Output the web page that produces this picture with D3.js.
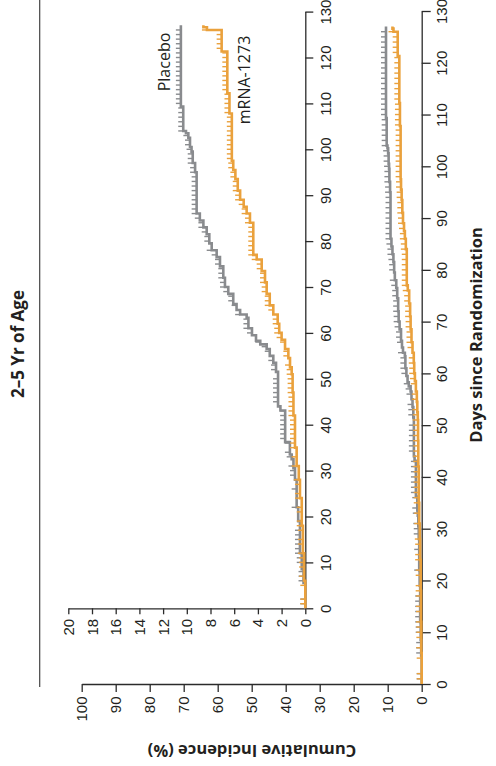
<!DOCTYPE html>
<html>
<head>
<meta charset="utf-8">
<script src="https://cdn.jsdelivr.net/npm/d3@7"></script>
<style>
  html, body { margin: 0; padding: 0; background: #fff; }
  svg { display: block; font-family: "Open Sans", "Noto Sans", sans-serif; }
</style>
</head>
<body>
<div id="chart"></div>
<script>
// cumulative incidence steps (day the step happens, % after it)
const placeboDays = [0, 5.5, 8.5, 12, 19, 22, 28, 30.5, 32.5, 33.5, 36.2, 43.1, 44, 51.5, 53.5, 55, 56.5, 57.5, 58.3, 59.5, 61, 63.3, 64, 65, 66.3, 68.5, 70, 72, 74.5, 76.5, 78, 79.5, 81.5, 83, 84.5, 86, 95, 97, 99.5, 100.5, 102.5, 103.5, 104, 109.3];
const placeboPct  = [0, 0.15, 0.3, 0.45, 0.6, 0.73, 0.87, 1.0, 1.15, 1.3, 1.7, 2.1, 2.3, 2.47, 2.7, 3.0, 3.26, 3.8, 4.16, 4.5, 4.8, 4.95, 5.5, 5.8, 6.08, 6.5, 6.78, 6.92, 7.2, 7.48, 7.9, 8.1, 8.32, 8.6, 8.9, 9.17, 9.3, 9.5, 9.6, 9.73, 9.87, 10.07, 10.3, 10.5];

const mrnaDays = [0, 6, 12, 18, 24, 28, 31, 35, 42, 47, 51, 52.5, 54.5, 56.5, 58.5, 60, 62, 64, 66, 68.5, 71, 73.5, 76, 77, 84, 86, 87.5, 89, 91, 93.5, 95.5, 97.5, 107.8, 112.2, 121.3, 126, 126.6];
const mrnaPct  = [0, 0.1, 0.2, 0.3, 0.45, 0.55, 0.73, 0.87, 1.0, 1.07, 1.15, 1.29, 1.43, 1.71, 2.0, 2.2, 2.33, 2.7, 3.0, 3.26, 3.4, 3.68, 4.1, 4.39, 4.67, 4.95, 5.2, 5.5, 5.7, 5.9, 6.08, 6.2, 6.4, 6.58, 7.06, 8.3, 8.6];

const lastDay = 127;

// censoring marks (days)
const placeboCensor = [1, 2, 6, 7, 8, 10, 11, 12, 13, 14, 15, 16, 17, 22, 26, 29, 30, 31, 33, 34,
  36, 37, 38, 39, 40, 41, 42, 43, 45, 46, 47, 48, 49, 50, 52, 53, 54, 56, 57, 58, 60, 61, 62, 63, 64,
  66, 67, 68, 69, 70, 71, 72, 73, 74, 75, 76, 77, 78, 80, 81, 82, 83, 84, 85, 86, 87, 88, 89, 90, 91,
  92, 93, 94, 95, 96, 97, 98, 99, 100, 101, 102, 103, 104, 105, 106, 107, 108, 109, 110, 111, 112,
  113, 114, 115, 116, 117, 118, 119, 120, 121, 122, 123, 124, 125, 126];
const mrnaCensor = [1, 2, 5, 7, 9, 10, 11, 12, 14, 15, 17, 18, 19, 21, 22, 24, 25, 27, 28, 31, 33, 35,
  36, 37, 38, 39, 40, 41, 42, 43, 44, 45, 46, 47, 48, 49, 50, 51, 52, 53, 55, 56, 58, 59, 60, 61, 62,
  63, 65, 66, 67, 68, 69, 70, 71, 72, 73, 74, 75, 76, 77, 78, 79, 80, 81, 82, 83, 84, 85, 86, 87, 88,
  89, 90, 91, 92, 93, 94, 95, 96, 97, 98, 99, 100, 101, 102, 103, 104, 105, 106, 107, 108, 109, 110,
  111, 112, 113, 114, 115, 116, 117, 118, 119, 120, 121, 122, 123, 124, 125, 126];

// tick labels
const dayTicks = [0, 10, 20, 30, 40, 50, 60, 70, 80, 90, 100, 110, 120, 130];
const mainPctTicks = [0, 10, 20, 30, 40, 50, 60, 70, 80, 90, 100];
const insetPctTicks = [0, 2, 4, 6, 8, 10, 12, 14, 16, 18, 20];

const groups = [
  {name: "Placebo", days: placeboDays, pct: placeboPct, censor: placeboCensor, color: "#898b8e"},
  {name: "mRNA-1273", days: mrnaDays, pct: mrnaPct, censor: mrnaCensor, color: "#eaa13c"}
];

const width = 496, height = 766;
const axisColor = "#2b2b2b";

const svg = d3.select("#chart")
    .append("svg")
    .attr("width", width)
    .attr("height", height);

svg.append("rect").attr("width", width).attr("height", height).attr("fill", "#fff");

// the figure is printed turned a quarter turn: days run upwards, incidence runs leftwards
const mainDay = d3.scaleLinear().domain([0, 130]).range([684, 11]);
const mainPct = d3.scaleLinear().domain([0, 100]).range([421.7, 81.7]);
const insetDay = d3.scaleLinear().domain([0, 130]).range([608.3, 11.6]);
const insetPct = d3.scaleLinear().domain([0, 20]).range([305.3, 68.3]);

function valueAt(g, day) {
    let v = 0;
    for (let i = 0; i < g.days.length; i++) {
        if (g.days[i] <= day) v = g.pct[i];
    }
    return v;
}

function drawPanel(dayScale, pctScale, pctTicks, pctTickLen, dayTickLen) {
    // day axis (vertical, ticks to the right)
    const dayAxis = svg.append("g")
        .attr("transform", "translate(" + pctScale(0) + ",0)")
        .call(d3.axisRight(dayScale).tickValues(dayTicks).tickSize(dayTickLen).tickSizeOuter(0));
    dayAxis.selectAll("text")
        .attr("x", 0).attr("dy", 0)
        .attr("text-anchor", "middle")
        .attr("transform", "translate(25.5,0) rotate(-90)");

    // incidence axis (horizontal, ticks down)
    const pctAxis = svg.append("g")
        .attr("transform", "translate(0," + dayScale(0) + ")")
        .call(d3.axisBottom(pctScale).tickValues(pctTicks).tickSize(pctTickLen).tickSizeOuter(0));
    pctAxis.selectAll("text")
        .attr("y", 0).attr("dy", 0)
        .attr("text-anchor", "end")
        .attr("transform", "translate(5," + (pctTickLen + 4.5) + ") rotate(-90)");

    [dayAxis, pctAxis].forEach(a => {
        a.selectAll("path, line").attr("stroke", axisColor).attr("stroke-width", 1.3);
        a.selectAll("text").attr("fill", "#231f20").style("font-size", "15px");
    });

    const line = d3.line()
        .x(d => pctScale(d[1]))
        .y(d => dayScale(d[0]))
        .curve(d3.curveStepBefore);

    groups.forEach(g => {
        const pts = g.days.map((d, i) => [d, g.pct[i]]);
        pts.push([lastDay, g.pct[g.pct.length - 1]]);

        // censor marks stick out towards higher incidence
        svg.append("g").selectAll("line")
            .data(g.censor)
            .enter()
            .append("line")
            .attr("x1", d => pctScale(valueAt(g, d)))
            .attr("x2", d => pctScale(valueAt(g, d)) - 5)
            .attr("y1", d => dayScale(d))
            .attr("y2", d => dayScale(d))
            .attr("stroke", g.color)
            .attr("stroke-width", 1.4);

        svg.append("path")
            .datum(pts)
            .attr("d", line)
            .attr("fill", "none")
            .attr("stroke", g.color)
            .attr("stroke-width", 2.6);
    });
}

drawPanel(mainDay, mainPct, mainPctTicks, 8, 9);
drawPanel(insetDay, insetPct, insetPctTicks, 6, 8);

// curve labels in the inset
svg.append("text")
    .attr("transform", "translate(170,62) rotate(-90)")
    .attr("text-anchor", "middle")
    .attr("fill", "#231f20")
    .style("font-size", "16px")
    .text("Placebo");
svg.append("text")
    .attr("transform", "translate(250,80) rotate(-90)")
    .attr("text-anchor", "middle")
    .attr("fill", "#231f20")
    .style("font-size", "16px")
    .text("mRNA-1273");

// title and rule
svg.append("line")
    .attr("x1", 39.7).attr("x2", 39.7)
    .attr("y1", 0).attr("y2", 687)
    .attr("stroke", "#444").attr("stroke-width", 1.2);
svg.append("text")
    .attr("transform", "translate(24,344) rotate(-90)")
    .attr("text-anchor", "middle")
    .attr("fill", "#231f20")
    .style("font-size", "17px")
    .style("font-weight", "bold")
    .text("2–5 Yr of Age");

// axis titles
svg.append("text")
    .attr("transform", "translate(482,335) rotate(-90)")
    .attr("text-anchor", "middle")
    .attr("fill", "#231f20")
    .style("font-size", "16.5px")
    .style("font-weight", "bold")
    .text("Days since Randomization");
svg.append("text")
    .attr("transform", "translate(252,745) rotate(180)")
    .attr("text-anchor", "middle")
    .attr("fill", "#231f20")
    .style("font-size", "16.5px")
    .style("font-weight", "bold")
    .text("Cumulative Incidence (%)");
</script>
</body>
</html>
